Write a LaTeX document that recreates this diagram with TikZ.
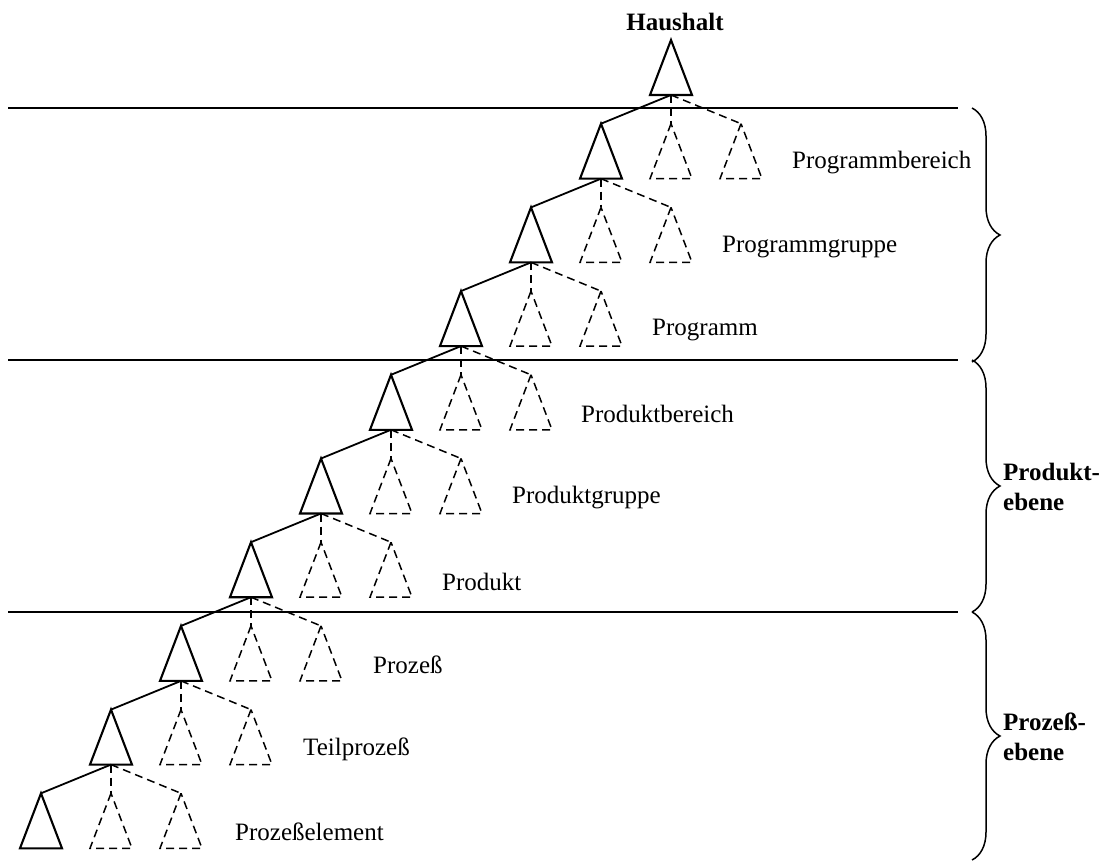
\documentclass[tikz,border=0pt]{standalone}
\usepackage{fontspec}
\setmainfont{Liberation Serif}
\usetikzlibrary{decorations.pathreplacing}
\begin{document}
\begin{tikzpicture}[x=1pt,y=-1pt,
  lbl/.style={font=\fontsize{25}{28}\selectfont, anchor=west, inner sep=0pt},
  blbl/.style={font=\fontsize{25}{30}\selectfont\bfseries, align=left, anchor=west, inner sep=0pt},
  maintri/.style={line width=2.1pt, line join=miter},
  dashtri/.style={line width=1.5pt, dash pattern=on 8pt off 5pt},
  solidlink/.style={line width=1.8pt},
  dashlink/.style={line width=1.5pt, dash pattern=on 8pt off 5pt},
  level/.style={line width=1.5pt},
  bracket/.style={line width=1.5pt, decorate, decoration={brace, amplitude=28pt}}]
\useasboundingbox (0,0) rectangle (1105,861);

% level separators
\coordinate (l1a) at (8,108);  \coordinate (l1b) at (958,108);
\coordinate (l2a) at (8,360);  \coordinate (l2b) at (958,360);
\coordinate (l3a) at (8,612);  \coordinate (l3b) at (958,612);
\draw[level] (l1a) -- (l1b);
\draw[level] (l2a) -- (l2b);
\draw[level] (l3a) -- (l3b);

% main chain of triangles
\foreach \i in {0,...,9} {
  \pgfmathsetmacro\xa{671-70*\i}
  \pgfmathsetmacro\ya{40+83.7*\i}
  \coordinate (m\i) at (\xa,\ya);
  \coordinate (mb\i) at (\xa,\ya+55);
  \draw[maintri] (m\i) -- ++(-21,55) -- ++(42,0) -- cycle;
}

% sibling triangles (dashed) and their links
\foreach \i [evaluate=\i as \j using int(\i-1)] in {1,...,9} {
  \pgfmathsetmacro\xa{671-70*\i}
  \pgfmathsetmacro\ya{40+83.7*\i}
  \coordinate (s\i) at (\xa+70,\ya);
  \coordinate (t\i) at (\xa+140,\ya);
  \draw[dashtri] (s\i) -- ++(-21,55) -- ++(42,0) -- cycle;
  \draw[dashtri] (t\i) -- ++(-21,55) -- ++(42,0) -- cycle;
  \draw[solidlink] (mb\j) -- (m\i);
  \draw[dashlink] (mb\j) -- (s\i);
  \draw[dashlink] (mb\j) -- (t\i);
}

% labels
\node[font=\fontsize{25}{28}\selectfont\bfseries, inner sep=0pt] (top) at (675,22) {Haushalt};
\node[lbl] (n1) at (792,163) {Programmbereich};
\node[lbl] (n2) at (722,247) {Programmgruppe};
\node[lbl] (n3) at (652,330) {Programm};
\node[lbl] (n4) at (581,414) {Produktbereich};
\node[lbl] (n5) at (512,498) {Produktgruppe};
\node[lbl] (n6) at (442,582) {Produkt};
\node[lbl] (n7) at (373,665) {Prozeß};
\node[lbl] (n8) at (303,749) {Teilprozeß};
\node[lbl] (n9) at (235,832) {Prozeßelement};

% braces
\coordinate (b1a) at (972,108); \coordinate (b1b) at (972,362);
\coordinate (b2a) at (972,360); \coordinate (b2b) at (972,612);
\coordinate (b3a) at (972,612); \coordinate (b3b) at (972,860);
\draw[bracket] (b1a) -- (b1b);
\draw[bracket] (b2a) -- (b2b);
\draw[bracket] (b3a) -- (b3b);
\node[blbl] (pe) at (1003,487) {Produkt-\\ebene};
\node[blbl] (ze) at (1003,737) {Prozeß-\\ebene};
\end{tikzpicture}
\end{document}
